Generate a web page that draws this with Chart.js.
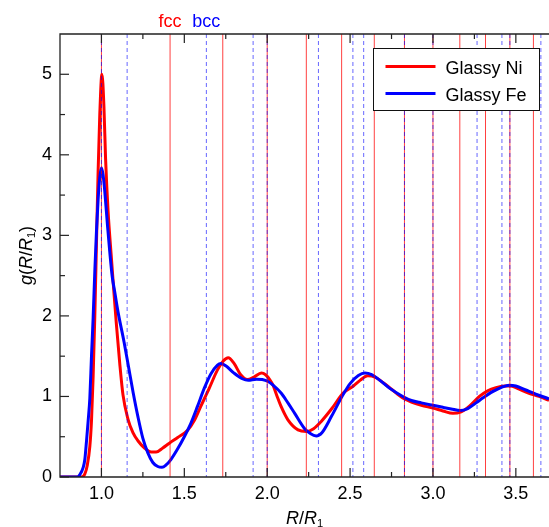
<!DOCTYPE html>
<html>
<head>
<meta charset="utf-8">
<script src="https://cdn.jsdelivr.net/npm/chart.js@4/dist/chart.umd.min.js"></script>
<style>
  html, body { margin: 0; padding: 0; background: #fff; }
  #wrap { width: 549px; height: 527px; }
</style>
</head>
<body>
<div id="wrap"><canvas id="myChart" width="549" height="527"></canvas></div>
<script>
// data
const niX = [0.75, 0.88, 0.9, 0.915, 0.93, 0.94, 0.95, 0.96, 0.97, 0.98, 0.99, 1.003, 1.015, 1.025, 1.04, 1.06, 1.075, 1.09, 1.11, 1.13, 1.16, 1.19, 1.22, 1.26, 1.3, 1.33, 1.37, 1.41, 1.46, 1.52, 1.56, 1.6, 1.65, 1.7, 1.735, 1.765, 1.8, 1.84, 1.88, 1.92, 1.965, 1.99, 2.015, 2.035, 2.06, 2.085, 2.125, 2.186, 2.236, 2.28, 2.326, 2.39, 2.457, 2.52, 2.56, 2.607, 2.65, 2.7, 2.75, 2.818, 2.87, 2.93, 3.0, 3.06, 3.12, 3.17, 3.22, 3.28, 3.33, 3.38, 3.43, 3.47, 3.52, 3.58, 3.64, 3.7];
const niY = [0, 0, 0.04, 0.15, 0.38, 0.7, 1.25, 2.0, 2.9, 3.8, 4.5, 5.0, 4.6, 3.95, 3.3, 2.72, 2.3, 1.9, 1.42, 1.02, 0.72, 0.55, 0.45, 0.36, 0.31, 0.31, 0.36, 0.42, 0.49, 0.58, 0.7, 0.88, 1.1, 1.33, 1.44, 1.48, 1.41, 1.27, 1.21, 1.24, 1.29, 1.27, 1.21, 1.14, 1.0, 0.87, 0.71, 0.585, 0.565, 0.6, 0.69, 0.85, 1.04, 1.13, 1.2, 1.256, 1.24, 1.17, 1.09, 0.98, 0.93, 0.89, 0.855, 0.82, 0.79, 0.81, 0.88, 1.0, 1.07, 1.11, 1.13, 1.13, 1.09, 1.04, 1.0, 0.95];

const feX = [0.75, 0.855, 0.87, 0.89, 0.9, 0.91, 0.92, 0.93, 0.94, 0.95, 0.96, 0.97, 0.98, 0.99, 1.0, 1.01, 1.02, 1.037, 1.05, 1.065, 1.08, 1.1, 1.137, 1.165, 1.192, 1.22, 1.25, 1.28, 1.31, 1.34, 1.365, 1.39, 1.42, 1.46, 1.5, 1.54, 1.58, 1.62, 1.66, 1.7, 1.72, 1.75, 1.8, 1.85, 1.885, 1.935, 1.97, 2.005, 2.035, 2.085, 2.125, 2.166, 2.226, 2.26, 2.296, 2.33, 2.387, 2.457, 2.5, 2.55, 2.59, 2.63, 2.68, 2.74, 2.818, 2.87, 2.93, 3.0, 3.06, 3.11, 3.165, 3.21, 3.26, 3.3, 3.36, 3.42, 3.46, 3.5, 3.56, 3.62, 3.7];
const feY = [0, 0, 0.03, 0.12, 0.22, 0.45, 0.7, 0.98, 1.5, 1.98, 2.55, 3.05, 3.45, 3.72, 3.84, 3.75, 3.55, 3.11, 2.8, 2.49, 2.3, 2.05, 1.67, 1.35, 1.04, 0.75, 0.48, 0.3, 0.18, 0.13, 0.12, 0.15, 0.22, 0.35, 0.5, 0.67, 0.88, 1.1, 1.28, 1.39, 1.41, 1.38, 1.29, 1.22, 1.2, 1.215, 1.21, 1.185, 1.14, 1.04, 0.92, 0.79, 0.6, 0.54, 0.51, 0.55, 0.75, 1.02, 1.16, 1.26, 1.29, 1.27, 1.2, 1.1, 1.0, 0.95, 0.92, 0.89, 0.865, 0.845, 0.825, 0.85, 0.92, 0.98, 1.06, 1.12, 1.14, 1.13, 1.08, 1.03, 0.97];

// crystal shell positions R/R1
const fccShells = [1, 1.414, 1.732, 2, 2.236, 2.449, 2.646, 2.828, 3, 3.162, 3.317, 3.464, 3.606];
const bccShells = [1, 1.155, 1.633, 1.915, 2, 2.309, 2.517, 2.582, 2.828, 3, 3.266, 3.416, 3.464, 3.651];

// ticks
const xMajor = [1.0, 1.5, 2.0, 2.5, 3.0, 3.5];
const xMinor = [1.25, 1.75, 2.25, 2.75, 3.25];
const yMajor = [0, 1, 2, 3, 4, 5];
const yMinor = [0.5, 1.5, 2.5, 3.5, 4.5];

const FONT = '"Liberation Sans", Arial, Helvetica, sans-serif';

function toPoints(xs, ys) {
    return xs.map((x, i) => ({ x: x, y: ys[i] }));
}

// draw a run of text pieces: [text, italic, subscript]
function drawRich(ctx, pieces, size) {
    let w = 0;
    pieces.forEach(p => {
        ctx.font = (p[1] ? 'italic ' : '') + (p[2] ? size * 0.62 : size) + 'px ' + FONT;
        w += ctx.measureText(p[0]).width;
    });
    let x = -w / 2;
    pieces.forEach(p => {
        ctx.font = (p[1] ? 'italic ' : '') + (p[2] ? size * 0.62 : size) + 'px ' + FONT;
        ctx.fillText(p[0], x, p[2] ? size * 0.18 : 0);
        x += ctx.measureText(p[0]).width;
    });
}

const decor = {
    id: 'decor',
    afterDatasetsDraw(chart) {
        const ctx = chart.ctx;
        const area = chart.chartArea;
        const xs = chart.scales.x;
        const ys = chart.scales.y;

        ctx.save();
        ctx.beginPath();
        ctx.rect(area.left, area.top, area.right - area.left, area.bottom - area.top);
        ctx.clip();
        // shell lines
        ctx.lineWidth = 1;
        ctx.strokeStyle = 'rgba(255,0,0,0.75)';
        fccShells.forEach(v => {
            const px = xs.getPixelForValue(v);
            ctx.beginPath();
            ctx.moveTo(px, area.top);
            ctx.lineTo(px, area.bottom);
            ctx.stroke();
        });
        ctx.strokeStyle = 'rgba(0,0,255,0.6)';
        ctx.setLineDash([4, 3]);
        bccShells.forEach(v => {
            const px = xs.getPixelForValue(v);
            ctx.beginPath();
            ctx.moveTo(px, area.top);
            ctx.lineTo(px, area.bottom);
            ctx.stroke();
        });
        ctx.restore();

        // frame + inward ticks
        ctx.save();
        ctx.strokeStyle = '#222';
        ctx.lineWidth = 1.3;
        ctx.beginPath();
        ctx.moveTo(area.right + 2, area.top);
        ctx.lineTo(area.left, area.top);
        ctx.lineTo(area.left, area.bottom);
        ctx.lineTo(area.right + 2, area.bottom);
        ctx.stroke();
        ctx.lineWidth = 1.2;
        const xt = (v, len) => {
            const px = xs.getPixelForValue(v);
            ctx.beginPath();
            ctx.moveTo(px, area.bottom);
            ctx.lineTo(px, area.bottom - len);
            ctx.moveTo(px, area.top);
            ctx.lineTo(px, area.top + len);
            ctx.stroke();
        };
        const yt = (v, len) => {
            const py = ys.getPixelForValue(v);
            ctx.beginPath();
            ctx.moveTo(area.left, py);
            ctx.lineTo(area.left + len, py);
            ctx.stroke();
        };
        xMajor.forEach(v => xt(v, 9));
        xMinor.forEach(v => xt(v, 5));
        yMajor.forEach(v => yt(v, 9));
        yMinor.forEach(v => yt(v, 5));
        ctx.restore();

        // fcc / bcc labels over the plot
        ctx.save();
        ctx.font = '18px ' + FONT;
        ctx.textAlign = 'center';
        ctx.textBaseline = 'alphabetic';
        ctx.fillStyle = '#ff0000';
        ctx.fillText('fcc', xs.getPixelForValue(fccShells[1]), 27);
        ctx.fillStyle = '#0000ff';
        ctx.fillText('bcc', xs.getPixelForValue(bccShells[2]), 27);
        ctx.restore();

        // legend box
        ctx.save();
        const bx = area.right - 175.5, by = 48.5, bw = 166, bh = 62;
        ctx.fillStyle = '#fff';
        ctx.fillRect(bx, by, bw, bh);
        ctx.strokeStyle = '#111';
        ctx.lineWidth = 1;
        ctx.strokeRect(bx, by, bw, bh);
        chart.data.datasets.slice().sort((a, b) => b.order - a.order).forEach((ds, i) => {
            const ly = by + 18 + i * 27;
            ctx.strokeStyle = ds.borderColor;
            ctx.lineWidth = 3;
            ctx.beginPath();
            ctx.moveTo(bx + 12, ly);
            ctx.lineTo(bx + 62, ly);
            ctx.stroke();
            ctx.fillStyle = '#000';
            ctx.font = '18px ' + FONT;
            ctx.textBaseline = 'alphabetic';
            ctx.fillText(ds.label, bx + 72, ly + 7);
        });
        ctx.restore();

        // axis titles
        ctx.save();
        ctx.fillStyle = '#000';
        ctx.textBaseline = 'alphabetic';
        ctx.translate((area.left + area.right) / 2, 524);
        drawRich(ctx, [['R', true], ['/', false], ['R', true], ['1', false, true]], 18);
        ctx.restore();

        ctx.save();
        ctx.fillStyle = '#000';
        ctx.textBaseline = 'alphabetic';
        ctx.translate(32, (area.top + area.bottom) / 2);
        ctx.rotate(-Math.PI / 2);
        drawRich(ctx, [['g', true], ['(', false], ['R', true], ['/', false], ['R', true], ['1', false, true], [')', false]], 18);
        ctx.restore();
    }
};

const ctx = document.getElementById('myChart');

new Chart(ctx, {
    type: 'line',
    data: {
        datasets: [{
            label: 'Glassy Ni',
            data: toPoints(niX, niY),
            borderColor: '#ff0000',
            borderWidth: 3,
            pointRadius: 0,
            cubicInterpolationMode: 'monotone',
            order: 1
        }, {
            label: 'Glassy Fe',
            data: toPoints(feX, feY),
            borderColor: '#0000ff',
            borderWidth: 3,
            pointRadius: 0,
            cubicInterpolationMode: 'monotone',
            order: 0
        }]
    },
    options: {
        responsive: false,
        animation: false,
        layout: { padding: { top: 34, left: 0, right: 0, bottom: 0 } },
        plugins: {
            legend: { display: false },
            tooltip: { enabled: false }
        },
        scales: {
            x: {
                type: 'linear',
                min: 0.75,
                max: 3.7,
                grid: { display: false, drawTicks: false },
                border: { display: false },
                afterBuildTicks: s => { s.ticks = xMajor.map(v => ({ value: v })); },
                afterFit: s => { s.height = 50; },
                ticks: {
                    autoSkip: false,
                    maxRotation: 0,
                    padding: 6,
                    color: '#000',
                    font: { family: FONT, size: 18 },
                    callback: v => Number(v).toFixed(1)
                }
            },
            y: {
                type: 'linear',
                min: 0,
                max: 5.5,
                grid: { display: false, drawTicks: false },
                border: { display: false },
                afterBuildTicks: s => { s.ticks = yMajor.map(v => ({ value: v })); },
                afterFit: s => { s.width = 60; },
                ticks: {
                    padding: 8,
                    color: '#000',
                    font: { family: FONT, size: 18 },
                    callback: v => String(v)
                }
            }
        }
    },
    plugins: [decor]
});
</script>
</body>
</html>
